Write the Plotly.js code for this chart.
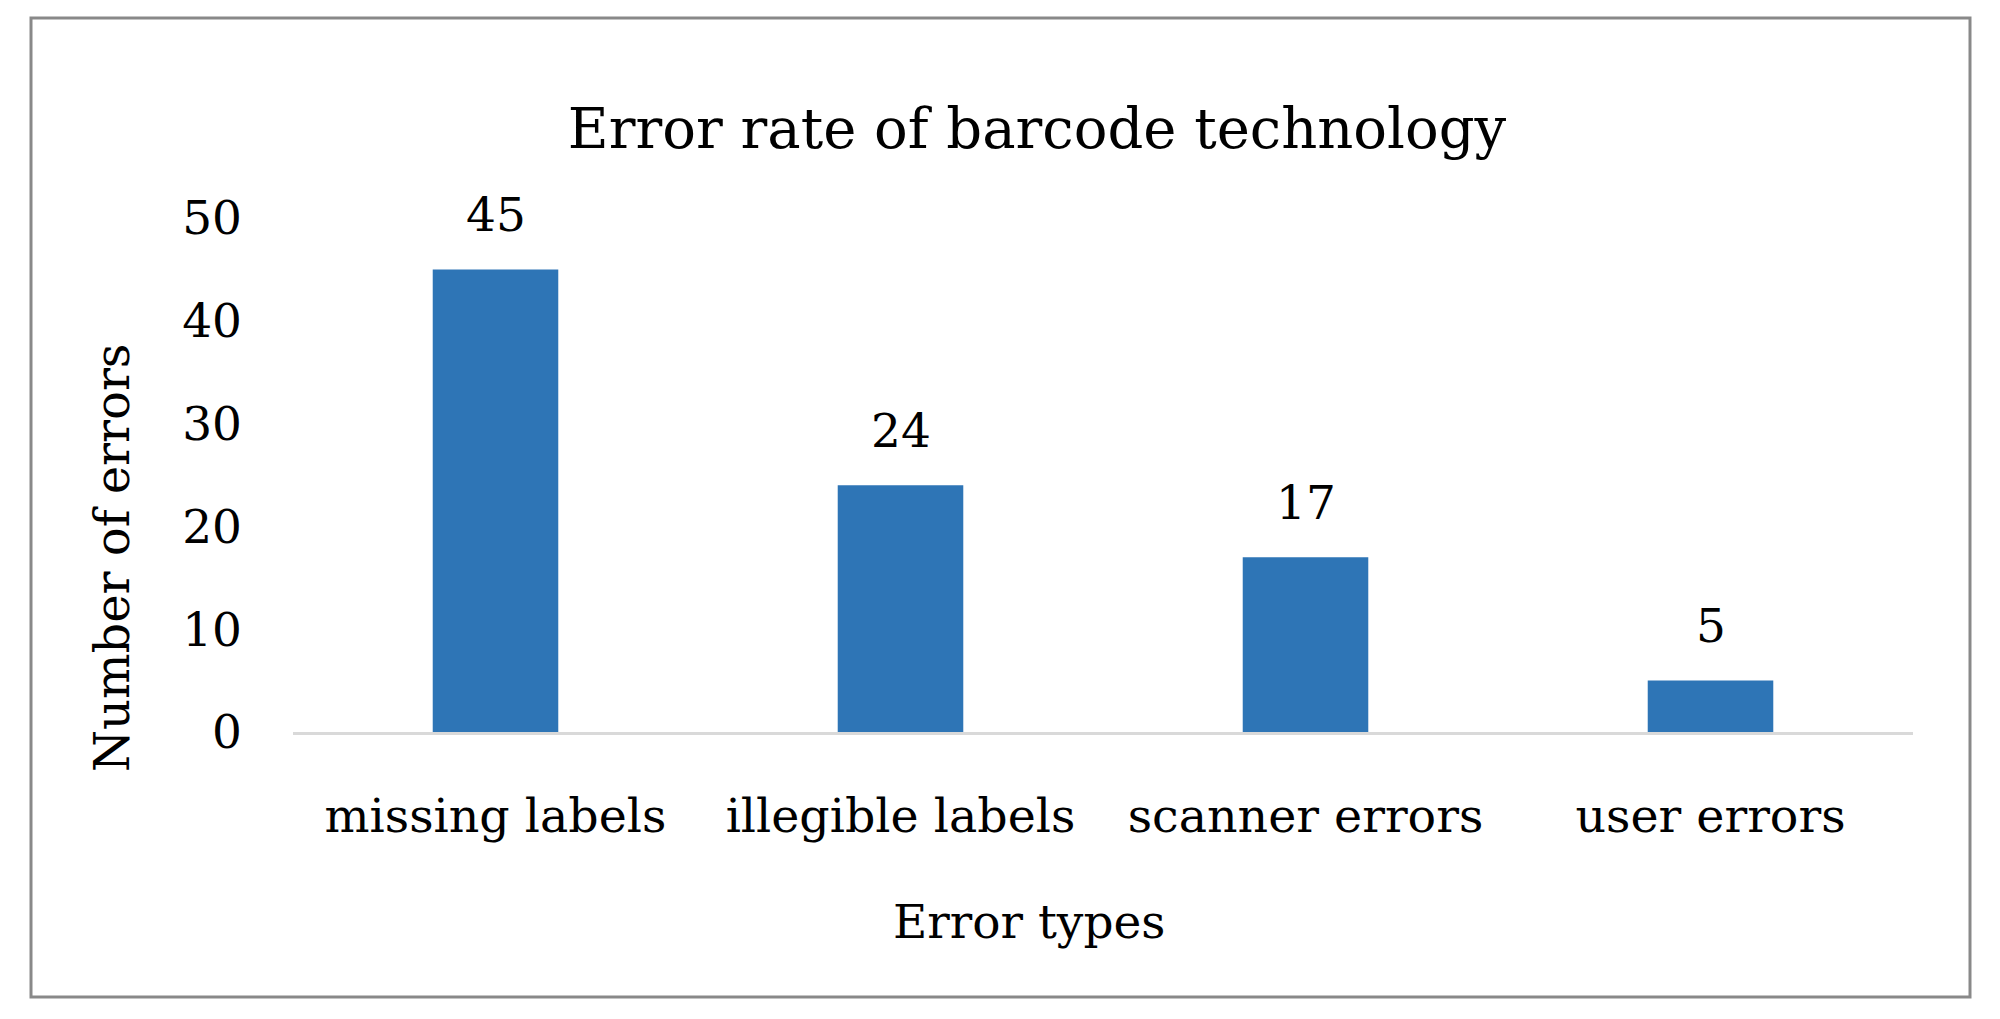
<!DOCTYPE html>
<html>
<head>
<meta charset="utf-8">
<script src="https://cdn.plot.ly/plotly-3.0.1.min.js"></script>
<style>html,body{margin:0;padding:0;background:#fff;}#chart{width:2000px;height:1019px;}</style>
</head>
<body>
<div id="chart"></div>
<script>
const categories = ["missing labels", "illegible labels", "scanner errors", "user errors"];
const errorCounts = [45, 24, 17, 5];
const yTickValues = [0, 10, 20, 30, 40, 50];
const chartTitle = "Error rate of barcode technology";
const xAxisTitle = "Error types";
const yAxisTitle = "Number of errors";

const FONT = "DejaVu Serif, serif";
const W = 2000, H = 1019;
const M = {l: 293, r: 87, t: 218, b: 287};
const pw = W - M.l - M.r, ph = H - M.t - M.b;
const px = x => (x - M.l) / pw;
const py = y => (H - M.b - y) / ph;

const trace = {
  type: "bar",
  x: categories,
  y: errorCounts,
  width: 0.31,
  marker: {color: "#2E75B6"},
  hoverinfo: "x+y"
};

const labelAnns = categories.map((c, i) => ({
  x: c, y: errorCounts[i], xref: "x", yref: "y",
  text: String(errorCounts[i]), showarrow: false,
  yanchor: "middle", yshift: 55,
  font: {family: FONT, size: 47, color: "#000"}
}));

const layout = {
  width: W, height: H,
  margin: M,
  paper_bgcolor: "#fff", plot_bgcolor: "#fff",
  showlegend: false,
  title: {
    text: chartTitle,
    font: {family: FONT, size: 56, color: "#000"},
    x: 1037 / W, xanchor: "center", xref: "container",
    y: 1 - 128 / H, yanchor: "middle", yref: "container"
  },
  xaxis: {
    type: "category",
    tickfont: {family: FONT, size: 47.5, color: "#000"},
    showgrid: false, zeroline: false,
    showline: true, linecolor: "#D9D9D9", linewidth: 3,
    ticks: "", ticklabelstandoff: 40
  },
  yaxis: {
    range: [0, 50],
    tickvals: yTickValues,
    tickfont: {family: FONT, size: 47, color: "#000"},
    showgrid: false, zeroline: false, showline: false,
    ticks: "", ticklabelstandoff: 50
  },
  annotations: labelAnns.concat([
    {
      text: xAxisTitle, showarrow: false, xref: "paper", yref: "paper",
      x: px(1029), y: py(921), xanchor: "center", yanchor: "middle",
      font: {family: FONT, size: 47, color: "#000"}
    },
    {
      text: yAxisTitle, showarrow: false, xref: "paper", yref: "paper",
      x: px(112), y: py(558), xanchor: "center", yanchor: "middle",
      textangle: -90,
      font: {family: FONT, size: 48, color: "#000"}
    }
  ]),
  shapes: [{
    type: "rect", xref: "paper", yref: "paper",
    x0: px(31), x1: px(1970), y0: py(997), y1: py(18),
    line: {color: "#898989", width: 3}, fillcolor: "rgba(0,0,0,0)", layer: "below"
  }]
};

Plotly.newPlot("chart", [trace], layout, {displayModeBar: false, staticPlot: true});
</script>
</body>
</html>
